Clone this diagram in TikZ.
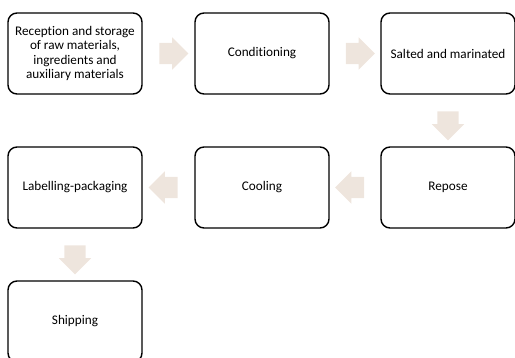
\documentclass[tikz,border=0pt]{standalone}
\usepackage{fontspec}
\setmainfont[Ligatures=NoCommon]{Carlito}
\usetikzlibrary{shapes.arrows,calc}
\definecolor{flowarrow}{HTML}{EEE5DD}

\begin{document}
\begin{tikzpicture}[x=1pt,y=-1pt]
        \useasboundingbox (0,0) rectangle (515,358);
        \begin{scope}[every node/.style={draw,line width=1.4pt,rounded corners=9pt,
                        minimum width=134pt, minimum height=81pt, inner sep=2pt,
                        align=center, font=\fontsize{13.2}{14.4}\selectfont}]
            \node (A) at (75,53.5) {Reception and storage\\of raw materials,\\ingredients and\\auxiliary materials};
            \node (B) at (262,53.5) {Conditioning};
            \node (C) at (448,53.5) {Salted and marinated};
            \node (D) at (448,187.5) {Repose};
            \node (E) at (262,187.5) {Cooling};
            \node (F) at (75,187.5) {Labelling-packaging};
            \node (G) at (75,321.5) {Shipping};
        \end{scope}

        \begin{scope}[every node/.style={single arrow,fill=flowarrow,draw=none,
                        minimum height=29pt, inner xsep=0pt, inner ysep=10.5pt,
                        single arrow head extend=5.5pt}]
            \node (AB) at ($(A)!0.5!(B)$) {};
            \node (BC) at ($(B)!0.5!(C)$) {};
            \node[rotate=-90] (CD) at ($(C.south)!0.5!(D.north)$) {};
            \node[rotate=180] (DE) at ($(D)!0.5!(E)$) {};
            \node[rotate=180] (EF) at ($(E)!0.5!(F)$) {};
            \node[rotate=-90] (FG) at ($(F.south)!0.5!(G.north)$) {};
        \end{scope}
    \end{tikzpicture}
\end{document}
